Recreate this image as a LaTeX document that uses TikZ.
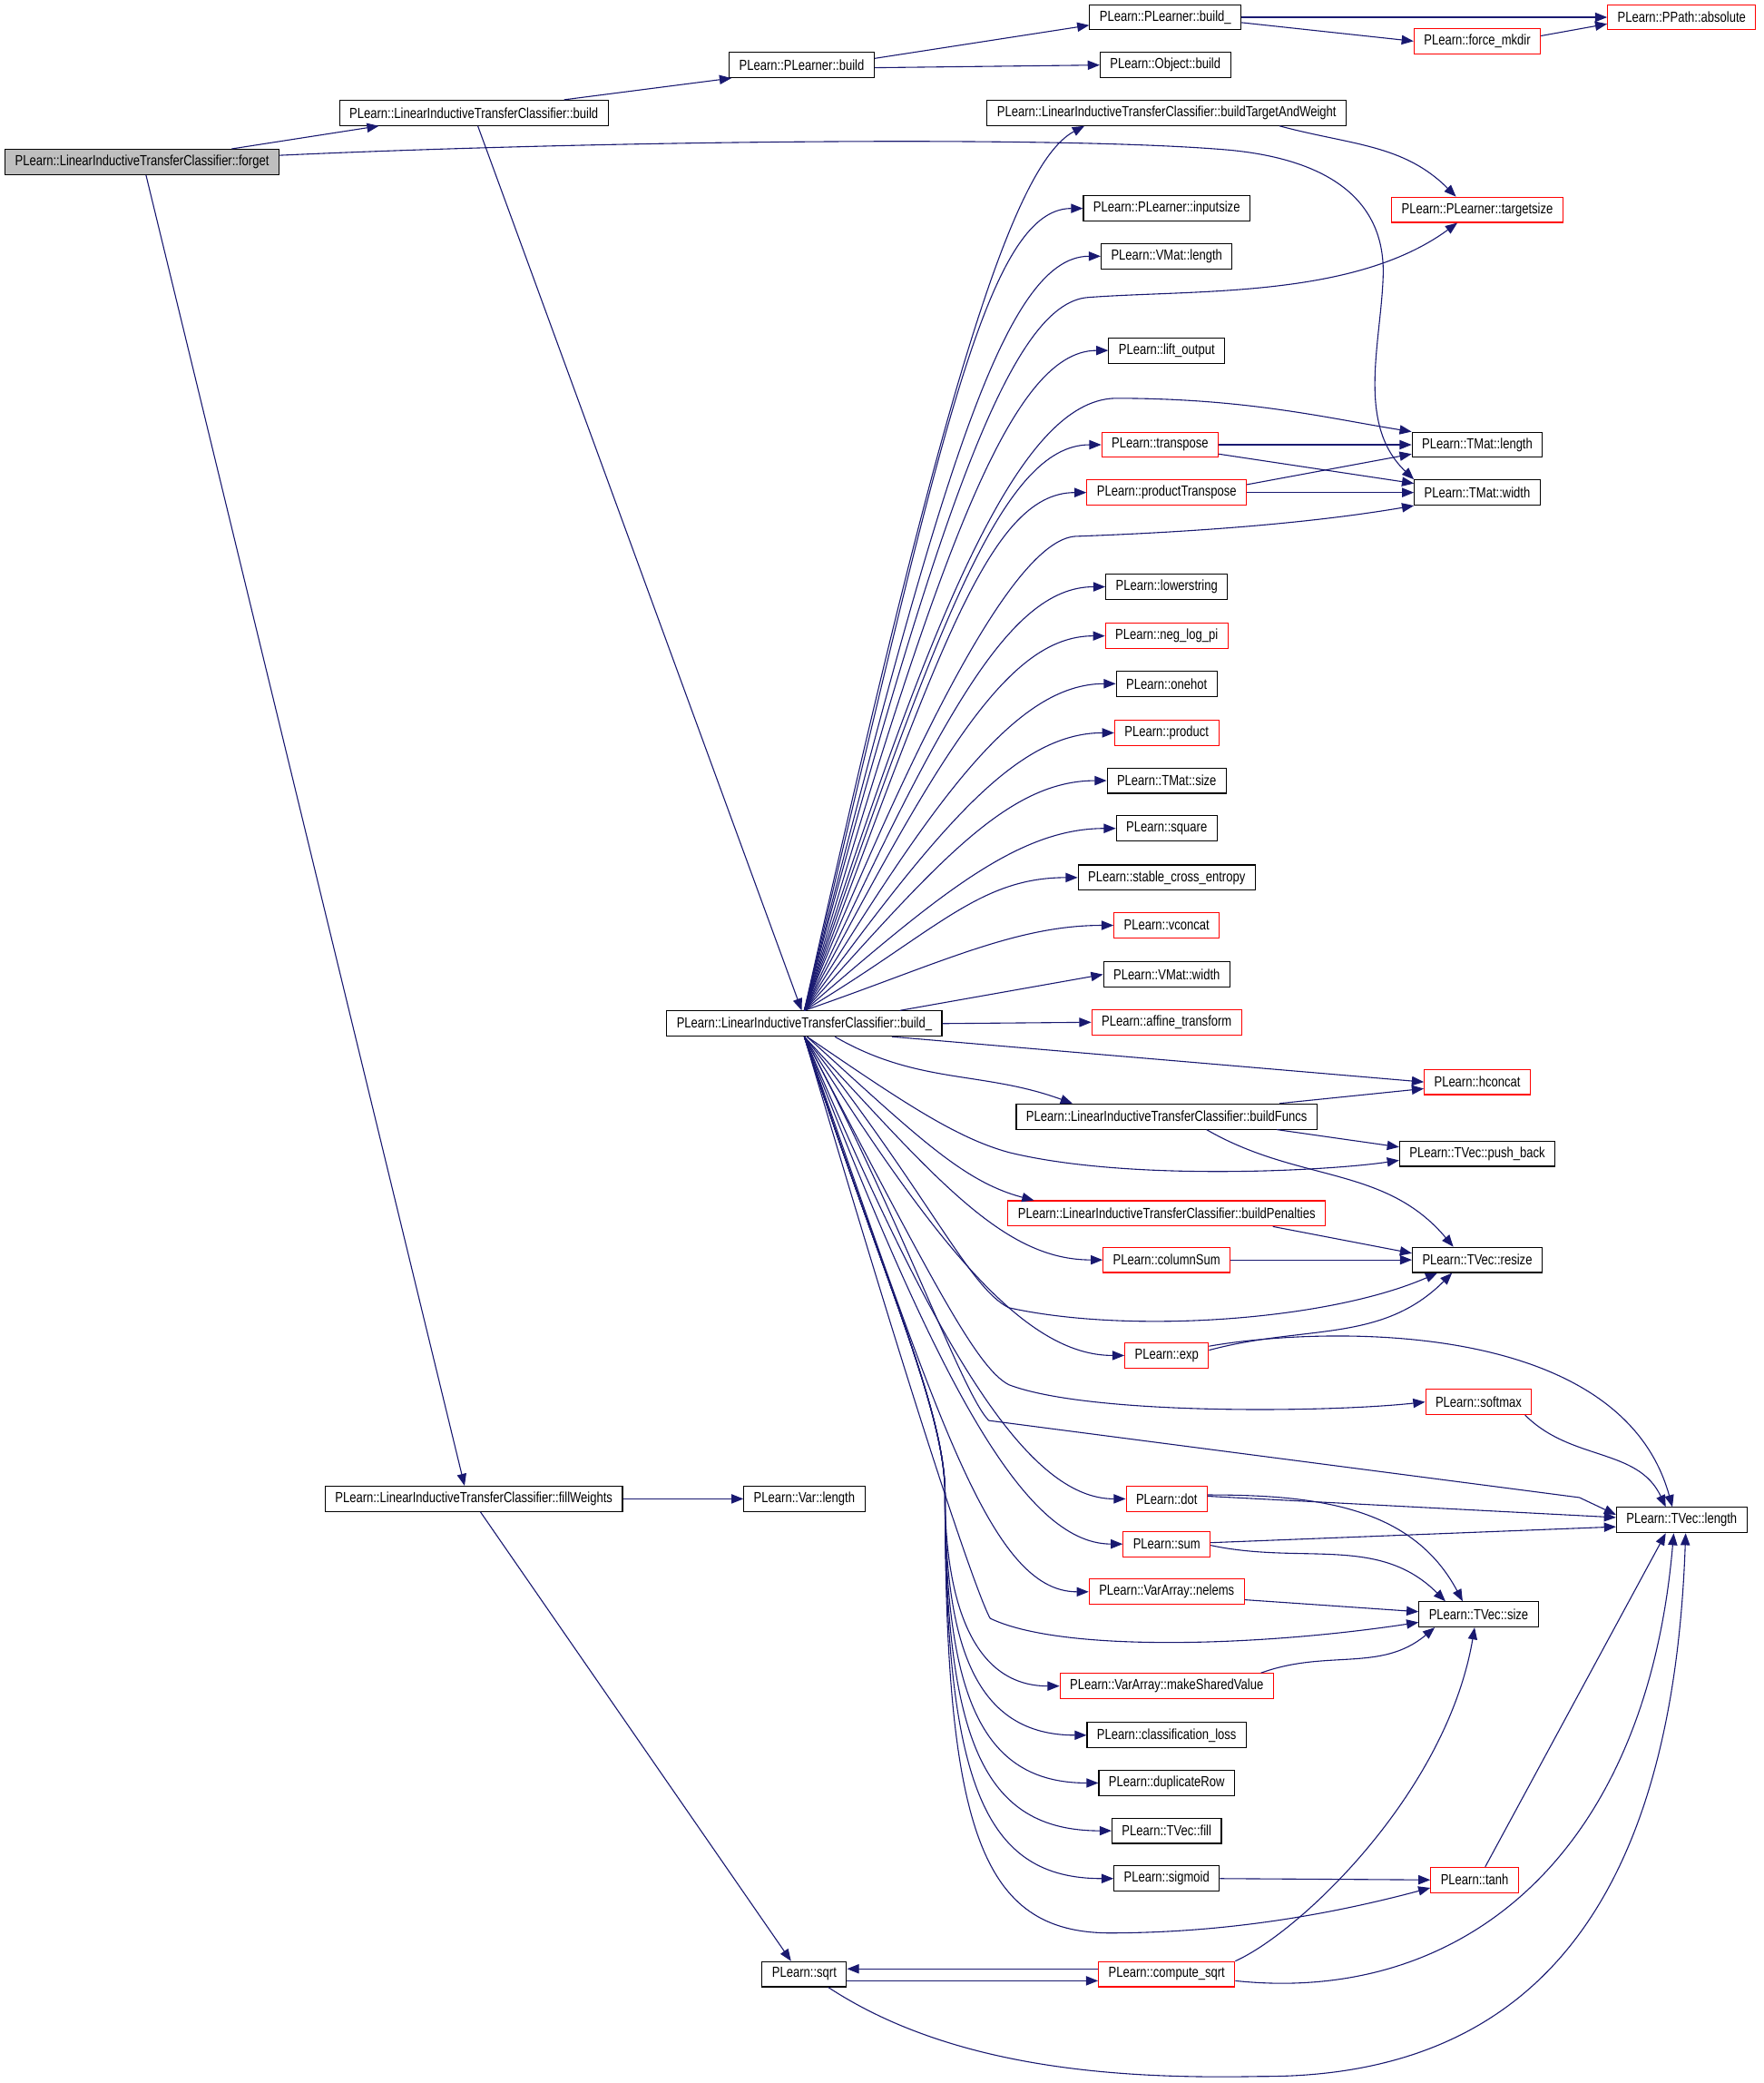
\documentclass[tikz,border=0pt]{standalone}
\usepackage{fontspec}
\setmainfont{Liberation Sans}[FakeStretch=0.81]
\usetikzlibrary{arrows.meta}
\definecolor{callblue}{HTML}{191970}
\definecolor{rootgray}{HTML}{BFBFBF}

\begin{document}
\begin{tikzpicture}[x=1pt,y=1pt,>={Triangle[length=9pt,width=7pt]},
  fn/.style={draw=black,line width=0.75pt,fill=white,minimum height=19pt,inner xsep=7.5pt,inner ysep=0pt,font=\fontsize{11}{12}\selectfont},
  fnred/.style={fn,draw=red},
  fnroot/.style={fn,fill=rootgray},
  call/.style={->,draw=callblue,line width=0.75pt}]
\useasboundingbox (0,0) rectangle (1329,-1569);

% Functions
\node[fnroot] (forget) at (107,-122) {PLearn::LinearInductiveTransferClassifier::forget};
\node[fn] (litcbuild) at (357,-85) {PLearn::LinearInductiveTransferClassifier::build};
\node[fn] (plbuild) at (604,-49) {PLearn::PLearner::build};
\node[fn] (plbuildu) at (878,-13) {PLearn::PLearner::build\_};
\node[fnred] (absolute) at (1267,-13) {PLearn::PPath::absolute};
\node[fnred] (forcemkdir) at (1113,-31) {PLearn::force\_mkdir};
\node[fn] (objbuild) at (878,-49) {PLearn::Object::build};
\node[fn] (btw) at (879,-85) {PLearn::LinearInductiveTransferClassifier::buildTargetAndWeight};
\node[fnred] (targetsize) at (1113,-158) {PLearn::PLearner::targetsize};
\node[fn] (inputsize) at (879,-157) {PLearn::PLearner::inputsize};
\node[fn] (vmatlen) at (879,-193) {PLearn::VMat::length};
\node[fn] (liftout) at (879,-264) {PLearn::lift\_output};
\node[fn] (tmatlen) at (1113,-335) {PLearn::TMat::length};
\node[fnred] (transpose) at (874,-335) {PLearn::transpose};
\node[fnred] (prodtrans) at (879,-371) {PLearn::productTranspose};
\node[fn] (tmatwid) at (1113,-371) {PLearn::TMat::width};
\node[fn] (lowerstr) at (879,-442) {PLearn::lowerstring};
\node[fnred] (neglogpi) at (879,-479) {PLearn::neg\_log\_pi};
\node[fn] (onehot) at (879,-515) {PLearn::onehot};
\node[fnred] (product) at (879,-552) {PLearn::product};
\node[fn] (tmatsize) at (879,-588) {PLearn::TMat::size};
\node[fn] (square) at (879,-624) {PLearn::square};
\node[fn] (stablece) at (879,-661) {PLearn::stable\_cross\_entropy};
\node[fnred] (vconcat) at (879,-697) {PLearn::vconcat};
\node[fn] (vmatwid) at (879,-734) {PLearn::VMat::width};
\node[fn] (buildu) at (606,-771) {PLearn::LinearInductiveTransferClassifier::build\_};
\node[fnred] (affine) at (879,-770) {PLearn::affine\_transform};
\node[fnred] (hconcat) at (1113,-815) {PLearn::hconcat};
\node[fn] (buildfuncs) at (879,-841) {PLearn::LinearInductiveTransferClassifier::buildFuncs};
\node[fn] (pushback) at (1113,-869) {PLearn::TVec::push\_back};
\node[fnred] (buildpen) at (879,-914) {PLearn::LinearInductiveTransferClassifier::buildPenalties};
\node[fn] (resize) at (1113,-949) {PLearn::TVec::resize};
\node[fnred] (colsum) at (879,-949) {PLearn::columnSum};
\node[fnred] (exp) at (879,-1021) {PLearn::exp};
\node[fnred] (softmax) at (1114,-1056) {PLearn::softmax};
\node[fn] (tveclen) at (1267,-1145) {PLearn::TVec::length};
\node[fnred] (dot) at (879,-1129) {PLearn::dot};
\node[fnred] (sum) at (879,-1163) {PLearn::sum};
\node[fn] (tvecsize) at (1114,-1216) {PLearn::TVec::size};
\node[fnred] (nelems) at (879,-1199) {PLearn::VarArray::nelems};
\node[fnred] (msv) at (879,-1270) {PLearn::VarArray::makeSharedValue};
\node[fn] (classloss) at (879,-1307) {PLearn::classification\_loss};
\node[fn] (duprow) at (879,-1343) {PLearn::duplicateRow};
\node[fn] (tvecfill) at (879,-1379) {PLearn::TVec::fill};
\node[fn] (sigmoid) at (879,-1415) {PLearn::sigmoid};
\node[fnred] (tanh) at (1111,-1416) {PLearn::tanh};
\node[fn] (fillw) at (357,-1129) {PLearn::LinearInductiveTransferClassifier::fillWeights};
\node[fn] (varlen) at (606,-1129) {PLearn::Var::length};
\node[fn] (sqrt) at (606,-1487) {PLearn::sqrt};
\node[fnred] (csqrt) at (879,-1487) {PLearn::compute\_sqrt};

% Calls from the top
\draw[call] ([xshift=-36]forget.north east) -- ([xshift=30]litcbuild.south west);
\draw[call] ([yshift=5]forget.east) .. controls (450,-106) and (800,-102) .. (926,-113)
  .. controls (1000,-120) and (1045,-150) .. (1042,-210)
  .. controls (1040,-260) and (1022,-320) .. (tmatwid.north west);
\draw[call] ([xshift=3]forget.south) -- ([xshift=-7]fillw.north);
\draw[call] ([xshift=68]litcbuild.north) -- ([xshift=2]plbuild.south west);
\draw[call] ([xshift=3]litcbuild.south) -- ([xshift=-2]buildu.north);
\draw[call] ([yshift=5]plbuild.east) -- ([yshift=-6]plbuildu.west);
\draw[call] ([yshift=-2]plbuild.east) -- (objbuild.west);
\draw[call] (plbuildu.east) -- (absolute.west);
\draw[call] ([yshift=-4]plbuildu.east) -- (forcemkdir.west);
\draw[call] ([yshift=4]forcemkdir.east) -- ([yshift=-5]absolute.west);
\draw[call] ([xshift=85]btw.south) to[out=-15,in=135] ([xshift=-16]targetsize.north);

% Calls from build_ upwards
\draw[call] (buildu.north) .. controls (705,-318) and (760,-125) .. ([xshift=-62]btw.south);
\foreach \t/\cy in {inputsize/349,vmatlen/374,liftout/424,transpose/474,prodtrans/499,lowerstr/549,neglogpi/574,onehot/600,product/626,tmatsize/651,square/676,stablece/702,vconcat/727}
  \draw[call] (buildu.north) .. controls (705,-\cy) and ([xshift=-75]\t.west) .. (\t.west);
\draw[call] (buildu.north) .. controls (705,-393) and (760,-228) .. (820,-224)
  .. controls (900,-218) and (1020,-225) .. ([xshift=-15]targetsize.south);
\draw[call] (buildu.north) .. controls (705,-449) and (770,-302) .. (840,-300)
  .. controls (940,-300) and (1000,-315) .. (tmatlen.north west);
\draw[call] (buildu.north) .. controls (705,-517) and (770,-407) .. (810,-404)
  .. controls (920,-400) and (1000,-392) .. (tmatwid.south west);
\draw[call] ([xshift=72]buildu.north) -- (vmatwid.west);
\draw[call] (buildu.east) -- (affine.west);

% Calls from build_ downwards
\draw[call] ([xshift=66]buildu.south) -- (hconcat.west);
\draw[call] ([xshift=23]buildu.south) to[out=-30,in=160] ([xshift=-71]buildfuncs.north);
\draw[call] ([xshift=2]buildu.south) .. controls (680,-830) and (720,-857) .. (760,-868)
  .. controls (850,-890) and (1000,-882) .. ([yshift=-5]pushback.west);
\draw[call] ([xshift=2]buildu.south) .. controls (690,-855) and (725,-890) .. ([xshift=-100]buildpen.north);
\draw[call] (buildu.south) .. controls (700,-900) and (730,-970) .. (760,-985)
  .. controls (850,-1005) and (1000,-995) .. ([xshift=-30]resize.south);
\draw[call] (buildu.south) .. controls (700,-960) and (735,-1030) .. (760,-1043)
  .. controls (820,-1066) and (1000,-1064) .. (softmax.west);
\draw[call] (buildu.south) .. controls (680,-920) and (725,-1050) .. (745,-1070)
  -- (1190,-1128) -- ([yshift=4]tveclen.west);
\draw[call] (buildu.south) .. controls (700,-1100) and (738,-1205) .. (746,-1219)
  .. controls (800,-1245) and (950,-1240) .. ([yshift=-6]tvecsize.west);
\foreach \t/\cy in {colsum/888,exp/938,dot/1014,sum/1038,nelems/1063}
  \draw[call] (buildu.south) .. controls (705,-\cy) and ([xshift=-75]\t.west) .. (\t.west);
\foreach \t/\ca/\cx/\ey in {msv/1200/730/1270,classloss/1240/735/1307,duprow/1275/738/1343,tvecfill/1310/740/1379,sigmoid/1345/742/1415}
  \draw[call] (buildu.south) .. controls (660,-950) and (712,-1060) .. (712,-1125)
    .. controls (712,-\ca) and (\cx,-\ey) .. (\t.west);
\draw[call] (buildu.south) .. controls (660,-950) and (712,-1060) .. (712,-1125)
  .. controls (712,-1380) and (740,-1455) .. (835,-1456)
  .. controls (930,-1456) and (1010,-1440) .. ([yshift=-6]tanh.west);

% Calls between the callees
\draw[call] (transpose.east) -- (tmatlen.west);
\draw[call] ([yshift=-7]transpose.east) -- ([yshift=-3]tmatwid.north west);
\draw[call] ([yshift=6]prodtrans.east) -- ([yshift=-7]tmatlen.west);
\draw[call] (prodtrans.east) -- (tmatwid.west);
\draw[call] ([xshift=85]buildfuncs.north) -- ([yshift=-5]hconcat.west);
\draw[call] ([xshift=83]buildfuncs.south) -- ([yshift=5]pushback.west);
\draw[call] ([xshift=30]buildfuncs.south) to[out=-30,in=130] ([xshift=-18]resize.north);
\draw[call] ([xshift=80]buildpen.south) -- ([yshift=5]resize.west);
\draw[call] (colsum.east) -- (resize.west);
\draw[call] ([yshift=4]exp.east) to[out=15,in=-135] ([xshift=-19]resize.south);
\draw[call] ([yshift=7]exp.east) .. controls (990,-1000) and (1220,-990) .. ([xshift=-7]tveclen.north);
\draw[call] ([xshift=35]softmax.south) to[out=-45,in=115] ([xshift=-12]tveclen.north);
\draw[call] ([yshift=2]dot.east) -- ([yshift=2]tveclen.west);
\draw[call] ([yshift=3]dot.east) to[out=0,in=118] ([xshift=-12]tvecsize.north);
\draw[call] ([yshift=1]sum.east) -- ([yshift=-5]tveclen.west);
\draw[call] ([yshift=-1]sum.east) to[out=-12,in=135] ([xshift=-25]tvecsize.north);
\draw[call] ([yshift=-6]nelems.east) -- ([yshift=2]tvecsize.west);
\draw[call] ([xshift=71]msv.north) to[out=20,in=-140] ([xshift=-33]tvecsize.south);
\draw[call] (sigmoid.east) -- (tanh.west);
\draw[call] ([xshift=8]tanh.north) -- ([xshift=-12]tveclen.south);
\draw[call] (csqrt.north east) .. controls (980,-1455) and (1090,-1350) .. ([xshift=-3]tvecsize.south);
\draw[call] ([yshift=-5]csqrt.east) .. controls (1100,-1510) and (1240,-1400) .. ([xshift=-6]tveclen.south);
\draw[call] ([xshift=18]sqrt.south) .. controls (720,-1560) and (850,-1566) .. (950,-1564)
  .. controls (1150,-1565) and (1260,-1440) .. ([xshift=3]tveclen.south);
\draw[call] ([yshift=-5]sqrt.east) -- ([yshift=-5]csqrt.west);
\draw[call] ([yshift=4]csqrt.west) -- ([yshift=4]sqrt.east);
\draw[call] (fillw.east) -- (varlen.west);
\draw[call] ([xshift=5]fillw.south) -- ([xshift=-10]sqrt.north);
\end{tikzpicture}
\end{document}
